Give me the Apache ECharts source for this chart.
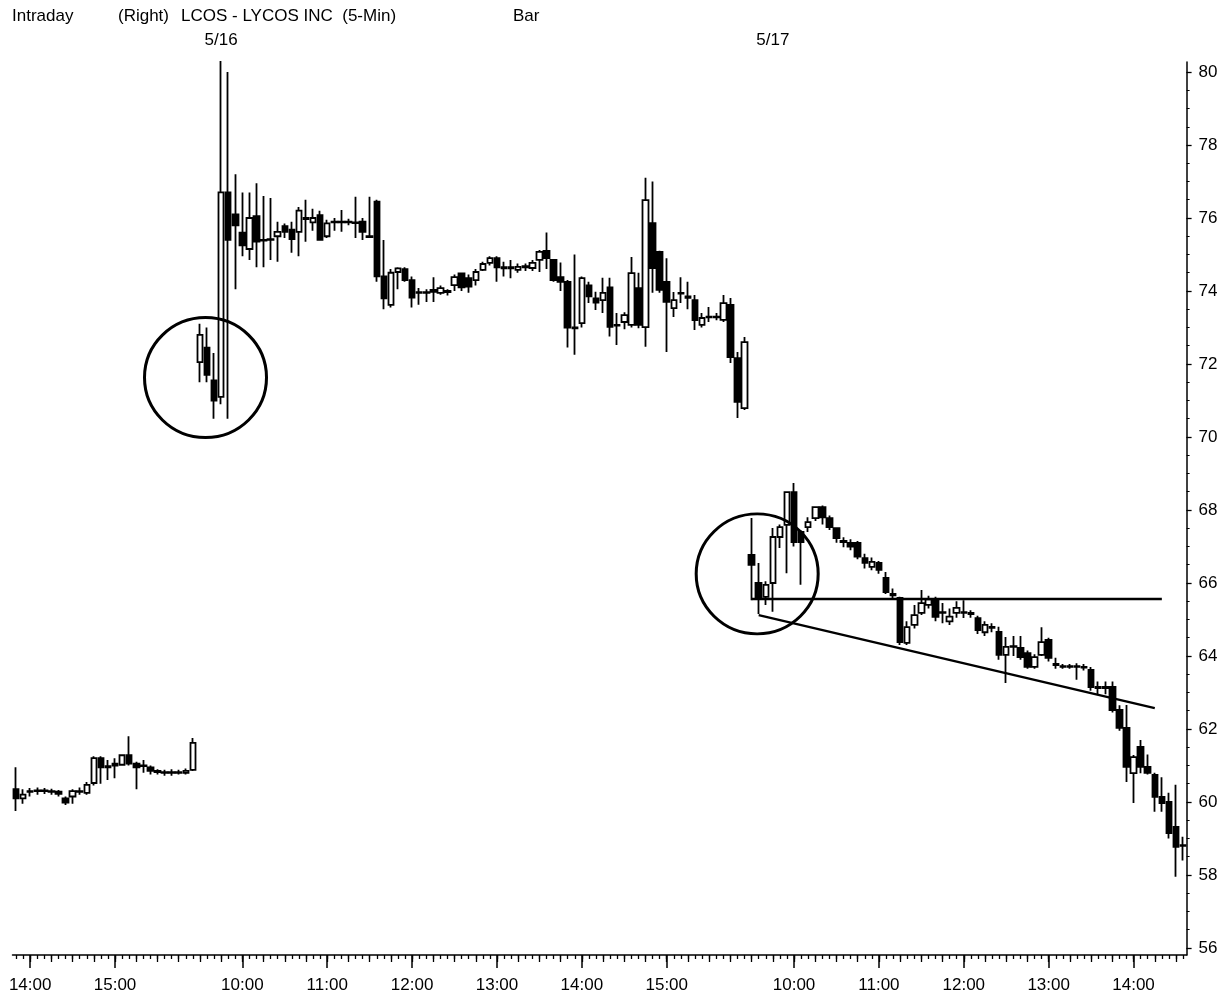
<!DOCTYPE html>
<html><head><meta charset="utf-8">
<script src="https://cdn.jsdelivr.net/npm/echarts@6/dist/echarts.min.js"></script>
<style>html,body{margin:0;padding:0;background:#fff}#c{width:1229px;height:1000px}</style>
</head><body><div id="c"></div><script>
// each bar: [open, close, low, high]
const day0515 = [
 [60.35,60.1,59.75,60.95],[60.1,60.2,59.95,60.35],[60.28,60.3,60.15,60.38],[60.3,60.32,60.2,60.4],
 [60.32,60.3,60.22,60.38],[60.3,60.28,60.2,60.36],[60.28,60.22,60.15,60.33],[60.1,59.98,59.92,60.15],
 [60.15,60.3,59.95,60.35],[60.3,60.28,60.2,60.4],[60.25,60.47,60.2,60.55],[60.52,61.2,60.45,61.25],
 [61.2,60.95,60.5,61.25],[60.95,60.98,60.6,61.15],[61.0,61.05,60.65,61.2],[61.02,61.28,61.0,61.3],
 [61.28,61.05,61.0,61.8],[61.05,60.95,60.35,61.1],[61.0,60.98,60.8,61.15],[60.95,60.85,60.75,61.0],
 [60.85,60.82,60.75,60.9],[60.82,60.8,60.72,60.88],[60.8,60.82,60.72,60.9],[60.82,60.8,60.75,60.88],
 [60.8,60.85,60.75,60.92],[60.88,61.62,60.85,61.75]
];
const day0516 = [
 [72.05,72.8,71.5,73.1],[72.45,71.7,71.5,73.0],[71.55,71.0,70.5,72.3],[71.1,76.7,70.9,80.3],
 [76.7,75.4,70.5,80.0],[76.1,75.8,74.05,77.2],[75.6,75.25,74.95,76.7],[75.15,76.0,74.85,76.7],
 [76.05,75.35,74.65,76.95],[75.4,75.38,74.65,76.6],[75.4,75.42,74.85,76.55],[75.5,75.62,74.8,75.9],
 [75.78,75.62,75.45,75.85],[75.68,75.42,75.05,75.9],[75.62,76.2,74.95,76.3],[76.0,75.97,75.35,76.5],
 [75.88,76.0,75.65,76.25],[76.08,75.4,75.38,76.2],[75.5,75.85,75.45,75.95],[75.88,75.9,75.65,76.0],
 [75.9,75.88,75.62,76.22],[75.88,75.9,75.8,75.98],[75.88,75.86,75.45,76.58],[75.9,75.62,75.4,76.0],
 [75.48,75.5,75.45,76.58],[76.45,74.4,74.25,76.5],[74.4,73.8,73.5,75.4],[73.62,74.5,73.55,74.6],
 [74.52,74.62,74.05,74.65],[74.6,74.3,74.25,74.65],[74.3,73.82,73.55,74.4],[73.95,73.97,73.62,74.08],
 [73.97,73.95,73.7,74.05],[73.98,74.03,73.7,74.38],[73.95,74.08,73.9,74.15],[74.0,73.97,73.88,74.05],
 [74.16,74.38,74.0,74.45],[74.48,74.1,74.0,74.5],[74.35,74.12,73.95,74.45],[74.3,74.52,74.15,74.6],
 [74.58,74.74,74.55,74.8],[74.77,74.9,74.7,74.95],[74.9,74.65,74.25,74.95],[74.65,74.62,74.4,74.8],
 [74.62,74.65,74.35,74.85],[74.58,74.66,74.5,74.75],[74.65,74.68,74.55,74.75],[74.63,74.77,74.55,74.85],
 [74.85,75.07,74.52,75.12],[75.1,74.9,74.6,75.6],[74.85,74.3,74.25,74.88],[74.38,74.25,74.0,74.78],
 [74.25,73.0,72.45,74.3],[73.0,72.98,72.25,75.0],[73.12,74.35,73.0,74.4],[74.15,73.85,73.67,74.25],
 [73.8,73.68,73.48,73.98],[73.75,73.95,73.4,74.36],[74.1,73.02,72.75,74.36],[73.05,73.07,72.52,73.4],
 [73.15,73.34,72.95,73.42],[73.07,74.49,73.0,74.93],[74.08,73.07,72.98,74.5],[73.01,76.49,72.47,77.1],
 [75.86,74.63,73.95,77.0],[75.07,74.03,73.95,75.1],[74.25,73.7,72.33,74.9],[73.53,73.75,73.29,73.97],
 [73.93,73.95,73.67,74.38],[73.85,73.81,73.5,74.25],[73.75,73.2,72.93,73.89],[73.07,73.26,73.0,73.4],
 [73.28,73.3,73.15,73.56],[73.3,73.28,73.2,73.4],[73.21,73.67,73.15,73.89],[73.62,72.19,72.03,73.81],
 [72.16,70.96,70.52,72.33],[70.79,72.6,70.74,72.74]
];
const day0517 = [
 [66.77,66.5,65.53,67.78],[66.0,65.6,65.15,66.55],[65.62,65.95,65.4,66.05],[66.0,67.26,65.21,67.51],
 [67.26,67.53,66.96,67.6],[67.59,68.49,66.27,68.5],[68.49,67.12,67.0,68.74],[67.4,67.12,65.95,67.45],
 [67.53,67.67,67.4,67.8],[67.78,68.08,67.7,68.1],[68.08,67.8,67.6,68.12],[67.78,67.53,67.45,67.85],
 [67.5,67.23,67.1,67.52],[67.15,67.12,66.98,67.25],[67.1,67.0,66.9,67.2],[67.1,66.72,66.65,67.15],
 [66.68,66.55,66.4,66.8],[66.44,66.58,66.35,66.7],[66.55,66.36,66.25,66.6],[66.14,65.75,65.7,66.3],
 [65.7,65.66,65.55,65.85],[65.59,64.38,64.3,65.62],[64.36,64.79,64.3,64.95],[64.85,65.12,64.75,65.4],
 [65.18,65.45,65.12,65.81],[65.4,65.55,65.3,65.65],[65.53,65.07,64.95,65.62],[65.2,65.18,64.9,65.45],
 [64.95,65.08,64.85,65.3],[65.18,65.32,65.05,65.5],[65.2,65.18,65.04,65.53],[65.18,65.15,65.05,65.25],
 [65.04,64.71,64.6,65.1],[64.65,64.85,64.55,64.95],[64.8,64.77,64.65,64.9],[64.66,64.03,63.9,64.8],
 [64.03,64.25,63.26,64.52],[64.25,64.27,64.0,64.55],[64.22,63.97,63.9,64.55],[64.08,63.7,63.65,64.15],
 [63.7,63.97,63.65,64.05],[64.03,64.38,64.0,64.79],[64.44,63.95,63.85,64.5],[63.78,63.75,63.65,63.95],
 [63.72,63.7,63.65,63.78],[63.7,63.72,63.65,63.78],[63.72,63.7,63.35,63.8],[63.7,63.68,63.6,63.78],
 [63.62,63.15,63.05,63.7],[63.15,63.12,62.95,63.3],[63.12,63.15,62.95,63.3],[63.15,62.52,62.45,63.3],
 [62.52,62.03,61.95,62.65],[62.03,60.96,60.55,62.66],[60.79,61.23,59.97,61.29],[61.51,60.96,60.79,61.7],
 [60.96,60.8,60.75,61.3],[60.74,60.14,59.73,60.8],[60.14,59.97,59.73,60.68],[60.0,59.15,59.0,60.25],
 [59.32,58.77,57.95,60.47],[58.8,58.82,58.4,59.05]
];
const sessionDates = ['5/15', '5/16', '5/17'];
const sessionStarts = ['13:50', '9:30', '9:30'];
const sessionBars = [day0515, day0516, day0517];
const yTickLabels = [56,58,60,62,64,66,68,70,72,74,76,78,80];
// annotations: [bar index, price]
const circleMarks = [[27, 71.63], [105, 66.25]];
const supportLine = [[104, 65.57], [162, 65.57]];
const trendLine = [[105, 65.12], [161, 62.57]];

// build categories (session date + bar time)
const categories = [];
const ohlc = [];
const dateLabelIdx = {};
sessionBars.forEach((bars, s) => {
  const [h, m] = sessionStarts[s].split(':').map(Number);
  bars.forEach((b, n) => {
    const t = h * 60 + m + 5 * n;
    const lab = sessionDates[s] + ' ' + Math.floor(t / 60) + ':' + String(t % 60).padStart(2, '0');
    categories.push(lab);
    ohlc.push(b);
    if (s > 0 && n === 3) dateLabelIdx[categories.length - 1] = sessionDates[s];
  });
});
const minuteOf = v => Number(v.split(':')[1]);

const minorY = [];
for (let v = 56; v <= 80.01; v += 0.5) minorY.push(+v.toFixed(2));

const font = 'Liberation Sans, Arial, sans-serif';
const baseX = {
  type: 'category', data: categories, boundaryGap: true, position: 'bottom',
  axisLine: { show: false }, axisLabel: { show: false }, splitLine: { show: false },
  axisPointer: { show: false }
};
const chart = echarts.init(document.getElementById('c'), null, { renderer: 'canvas' });
chart.setOption({
  animation: false,
  backgroundColor: '#fff',
  grid: { left: 12.5, right: 42.4, top: 62, bottom: 45 },
  xAxis: [
    Object.assign({}, baseX, {
      axisLine: { show: true, lineStyle: { color: '#000', width: 1.5 } },
      axisTick: { show: true, alignWithLabel: true, interval: 0, length: 4, lineStyle: { color: '#000', width: 1.3 } }
    }),
    Object.assign({}, baseX, {
      axisTick: { show: true, alignWithLabel: true, length: 7, lineStyle: { color: '#000', width: 1.3 },
        interval: (i, v) => minuteOf(v) % 15 === 0 }
    }),
    Object.assign({}, baseX, {
      axisTick: { show: true, alignWithLabel: true, length: 13, lineStyle: { color: '#000', width: 1.5 },
        interval: (i, v) => minuteOf(v) === 0 },
      axisLabel: { show: true, interval: (i, v) => minuteOf(v) === 0, margin: 22,
        formatter: v => v.split(' ')[1], color: '#000', fontSize: 17, fontFamily: font }
    }),
    Object.assign({}, baseX, {
      position: 'top', axisTick: { show: false },
      axisLabel: { show: true, margin: 13, color: '#000', fontSize: 17, fontFamily: font,
        interval: (i) => dateLabelIdx[i] !== undefined, formatter: (v, i) => dateLabelIdx[i] || '' }
    })
  ],
  yAxis: [
    { type: 'value', position: 'right', min: 55.808, max: 80.274, scale: true,
      axisLine: { show: true, lineStyle: { color: '#000', width: 1.5 } },
      axisTick: { show: true, customValues: yTickLabels, length: 5, lineStyle: { color: '#000', width: 1.3 } },
      axisLabel: { show: true, customValues: yTickLabels, margin: 12, color: '#000', fontSize: 17, fontFamily: font },
      splitLine: { show: false } },
    { type: 'value', position: 'right', min: 55.808, max: 80.274, scale: true,
      axisLine: { show: false },
      axisTick: { show: true, customValues: minorY, length: 3, lineStyle: { color: '#000', width: 1 } },
      axisLabel: { show: false }, splitLine: { show: false } }
  ],
  series: [
    { type: 'candlestick', xAxisIndex: 0, yAxisIndex: 0, data: ohlc, barWidth: 6, clip: false,
      itemStyle: { color: '#fff', color0: '#000', borderColor: '#000', borderColor0: '#000', borderWidth: 1.8 },
      emphasis: { disabled: true }, silent: true,
      markLine: { silent: true, symbol: ['none', 'none'], label: { show: false },
        lineStyle: { color: '#000', width: 2.4, type: 'solid', opacity: 1 },
        data: [
          [{ coord: [categories[supportLine[0][0]], supportLine[0][1]] }, { coord: [categories[supportLine[1][0]], supportLine[1][1]] }],
          [{ coord: [categories[trendLine[0][0]], trendLine[0][1]] }, { coord: [categories[trendLine[1][0]], trendLine[1][1]] }]
        ] } },
    { type: 'scatter', xAxisIndex: 0, yAxisIndex: 0, silent: true, z: 5,
      data: circleMarks.map(c => [categories[c[0]], c[1]]),
      symbol: 'circle', symbolSize: [122, 120], symbolOffset: [-1.5, 0],
      itemStyle: { color: 'rgba(0,0,0,0)', borderColor: '#000', borderWidth: 3, opacity: 1 } }
  ],
  graphic: [
    { type: 'text', left: 12, top: 8, style: { text: 'Intraday', font: '17px ' + font, fill: '#000' } },
    { type: 'text', left: 118, top: 8, style: { text: '(Right)', font: '17px ' + font, fill: '#000' } },
    { type: 'text', left: 181, top: 8, style: { text: 'LCOS - LYCOS INC  (5-Min)', font: '17px ' + font, fill: '#000' } },
    { type: 'text', left: 513, top: 8, style: { text: 'Bar', font: '17px ' + font, fill: '#000' } }
  ]
});
</script></body></html>
